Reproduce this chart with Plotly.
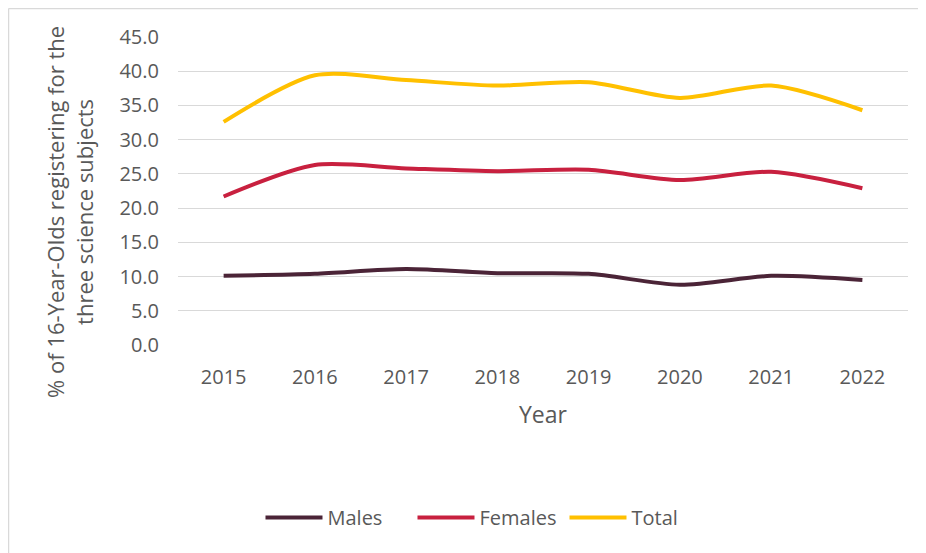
import plotly.graph_objects as go

years = ["2015", "2016", "2017", "2018", "2019", "2020", "2021", "2022"]
males = [10.1, 10.4, 11.1, 10.5, 10.4, 8.8, 10.1, 9.5]
females = [21.7, 26.3, 25.8, 25.4, 25.6, 24.1, 25.3, 22.9]
total = [32.6, 39.4, 38.7, 37.9, 38.4, 36.1, 37.9, 34.3]
y_ticks = [0, 5, 10, 15, 20, 25, 30, 35, 40, 45]
y_tick_labels = [f"{v:.1f}" for v in y_ticks]

FONT = "Open Sans"
GREY = "#595959"

fig = go.Figure()
for name, vals, col in [("Males", males, "#4B2437"),
                        ("Females", females, "#C8203F"),
                        ("Total", total, "#FFC000")]:
    fig.add_trace(go.Scatter(x=years, y=vals, name=name, mode="lines",
                             line=dict(color=col, width=4, shape="spline", smoothing=0.8)))

fig.update_layout(
    width=918, height=545,
    margin=dict(l=170, r=18, t=29, b=208),
    paper_bgcolor="white", plot_bgcolor="white",
    font=dict(family=FONT, size=20, color=GREY),
    xaxis=dict(type="category", range=[-0.5, 7.5], showgrid=False, zeroline=False,
               showline=False, ticks="outside", ticklen=14, tickcolor="rgba(0,0,0,0)",
               tickfont=dict(size=20, color=GREY),
               title=dict(text="Year", font=dict(size=23, color=GREY), standoff=17)),
    yaxis=dict(range=[0, 45], tickvals=y_ticks, ticktext=y_tick_labels,
               showgrid=True, gridcolor="#D9D9D9", gridwidth=1, zeroline=False,
               showline=False, ticks="outside", ticklen=14, tickcolor="rgba(0,0,0,0)",
               tickfont=dict(size=20, color=GREY)),
    legend=dict(orientation="h", x=0.113, xanchor="left", y=-0.56, yanchor="middle",
                itemwidth=57, entrywidth=80, entrywidthmode="pixels",
                font=dict(size=20, color=GREY), traceorder="normal"),
    showlegend=True,
)

fig.add_annotation(text="% of 16-Year-Olds registering for the<br>three science subjects",
                   xref="paper", yref="paper", x=-0.148, y=0.432, textangle=-90,
                   xanchor="center", yanchor="middle",
                   showarrow=False, font=dict(size=22, color=GREY), align="center")

# chart-area border (left and top edges are visible in the frame)
fig.add_shape(type="line", xref="paper", yref="paper",
              x0=-0.2322, x1=-0.2322, y0=-0.7, y1=1.0925,
              line=dict(color="#D9D9D9", width=1.5), layer="below")
fig.add_shape(type="line", xref="paper", yref="paper",
              x0=-0.2322, x1=1.03, y0=1.0925, y1=1.0925,
              line=dict(color="#D9D9D9", width=1.5), layer="below")

fig.write_html("out.html")
